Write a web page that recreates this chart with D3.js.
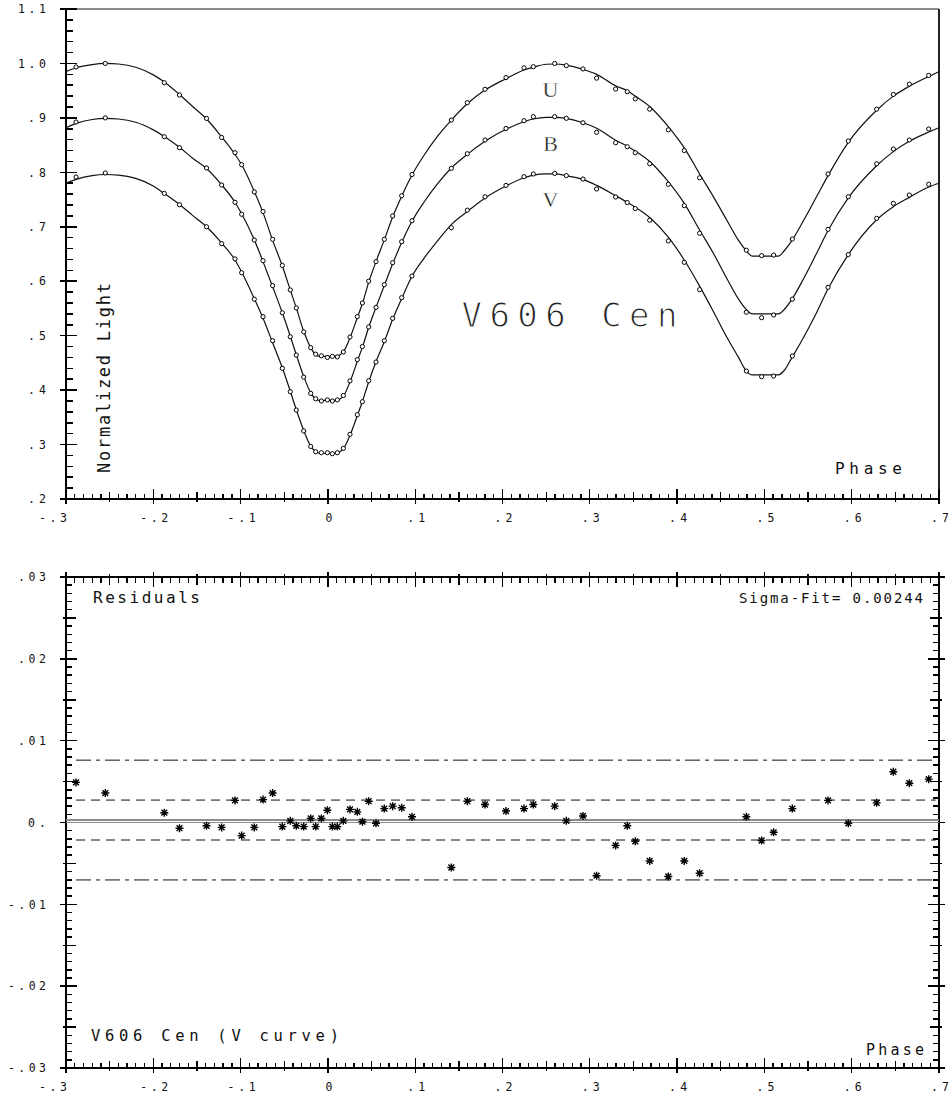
<!DOCTYPE html>
<html>
<head>
<meta charset="utf-8">
<script src="https://cdn.jsdelivr.net/npm/d3@7"></script>
<style>
  html, body { margin: 0; padding: 0; background: #fff; }
  svg { display: block; }
</style>
</head>
<body>
<svg id="chart" width="948" height="1103"></svg>
<script>
// ---- Observed phases (shared by U, B, V and the V residuals) ----
const phaseObs = [-0.2885, -0.2550, -0.1874, -0.1700, -0.1390, -0.1217, -0.1064, -0.0988, -0.0843, -0.0743,
  -0.0633, -0.0522, -0.0431, -0.0362, -0.0277, -0.0197, -0.0140, -0.0075, -0.0006, 0.0051,
  0.0108, 0.0177, 0.0253, 0.0337, 0.0395, 0.0467, 0.0551, 0.0646, 0.0742, 0.0845,
  0.0963, 0.1414, 0.1597, 0.1800, 0.2040, 0.2246, 0.2353, 0.2598, 0.2731, 0.2922,
  0.3078, 0.3296, 0.3429, 0.3521, 0.3686, 0.3899, 0.4082, 0.4258, 0.4793, 0.4968,
  0.5106, 0.5320, 0.5729, 0.5961, 0.6286, 0.6477, 0.6660, 0.6882];

// ---- Observed normalized light ----
const lightU = [0.9935, 1.000, 0.9646, 0.942, 0.899, 0.864, 0.836, 0.814, 0.764, 0.728,
  0.677, 0.629, 0.584, 0.551, 0.507, 0.478, 0.466, 0.463, 0.460, 0.462,
  0.461, 0.470, 0.4975, 0.535, 0.560, 0.600, 0.636, 0.677, 0.720, 0.757,
  0.796, 0.896, 0.928, 0.9525, 0.974, 0.992, 0.994, 1.000, 0.996, 0.990,
  0.973, 0.953, 0.948, 0.935, 0.916, 0.878, 0.840, 0.790, 0.657, 0.647,
  0.648, 0.6775, 0.797, 0.8575, 0.916, 0.943, 0.962, 0.978];
const lightB = [0.8924, 0.900, 0.8654, 0.8452, 0.808, 0.7767, 0.745, 0.723, 0.6757, 0.6377,
  0.592, 0.542, 0.498, 0.4644, 0.424, 0.394, 0.384, 0.380, 0.382, 0.380,
  0.382, 0.390, 0.417, 0.456, 0.480, 0.516, 0.552, 0.5936, 0.634, 0.6726,
  0.7111, 0.8074, 0.8342, 0.8594, 0.8805, 0.8948, 0.9022, 0.9022, 0.8992, 0.8911,
  0.8735, 0.8544, 0.847, 0.836, 0.8158, 0.778, 0.7387, 0.688, 0.543, 0.533,
  0.538, 0.567, 0.6953, 0.7552, 0.8158, 0.8428, 0.8594, 0.8796];
const lightV = [0.7914, 0.7988, 0.7614, 0.7405, 0.700, 0.669, 0.641, 0.6156, 0.567, 0.5348,
  0.4907, 0.440, 0.397, 0.3634, 0.325, 0.2965, 0.2868, 0.285, 0.285, 0.2832,
  0.285, 0.293, 0.3188, 0.3548, 0.3787, 0.4172, 0.4516, 0.4907, 0.5318, 0.5697,
  0.6096, 0.6983, 0.7305, 0.755, 0.776, 0.792, 0.797, 0.798, 0.794, 0.7877,
  0.7694, 0.7547, 0.7445, 0.7335, 0.712, 0.674, 0.6347, 0.5845, 0.435, 0.4246,
  0.4259, 0.4626, 0.5888, 0.649, 0.7155, 0.743, 0.7583, 0.778];

// ---- V-curve residuals (observed - fit) ----
const residV = [0.0049, 0.0036, 0.0012, -0.0007, -0.0004, -0.0006, 0.0027, -0.0016, -0.0006, 0.0028,
  0.0036, -0.0005, 0.0002, -0.0004, -0.0005, 0.0005, -0.0005, 0.0005, 0.0015, -0.0005,
  -0.0005, 0.0002, 0.0016, 0.0013, 0.0001, 0.0026, -0.0001, 0.0017, 0.0020, 0.0018,
  0.0007, -0.0055, 0.0026, 0.0022, 0.0014, 0.0017, 0.0022, 0.0020, 0.0002, 0.0008,
  -0.0065, -0.0028, -0.0004, -0.0023, -0.0047, -0.0066, -0.0047, -0.0062, 0.0007, -0.0022,
  -0.0012, 0.0017, 0.0027, -0.0001, 0.0024, 0.0062, 0.0048, 0.0053];
const residMean = 0.0003;
const sigmaFit = 0.00244;

// ---- Fitted light curves ----
const fitPhase = [-0.300, -0.2885, -0.270, -0.255, -0.240, -0.220, -0.200, -0.1874, -0.170, -0.155,
  -0.139, -0.1217, -0.1064, -0.0988, -0.0843, -0.0743, -0.0633, -0.0522, -0.0431, -0.0362,
  -0.0277, -0.0197, -0.0140, -0.0100, 0.0100, 0.0140, 0.0177, 0.0253, 0.0337, 0.0395,
  0.0467, 0.0551, 0.0646, 0.0742, 0.0845, 0.0963, 0.110, 0.125, 0.1414, 0.1597,
  0.180, 0.204, 0.2246, 0.2353, 0.250, 0.2598, 0.2731, 0.2922, 0.3078, 0.3296,
  0.3429, 0.3521, 0.3686, 0.3899, 0.4082, 0.4258, 0.442, 0.457, 0.470, 0.4793,
  0.486, 0.516, 0.5227, 0.532, 0.545, 0.560, 0.5729, 0.5961, 0.6286, 0.6477,
  0.666, 0.6882, 0.700];
const fitU = [0.985, 0.992, 0.998, 1.000, 0.999, 0.993, 0.979, 0.966, 0.943, 0.921,
  0.898, 0.865, 0.833, 0.814, 0.765, 0.726, 0.675, 0.628, 0.584, 0.551,
  0.508, 0.478, 0.465, 0.462, 0.462, 0.465, 0.470, 0.496, 0.533, 0.559,
  0.598, 0.636, 0.676, 0.718, 0.756, 0.795, 0.831, 0.865, 0.896, 0.926,
  0.951, 0.972, 0.988, 0.993, 0.9985, 0.999, 0.997, 0.989, 0.980, 0.959,
  0.950, 0.940, 0.921, 0.884, 0.845, 0.797, 0.754, 0.712, 0.676, 0.656,
  0.646, 0.646, 0.656, 0.676, 0.712, 0.756, 0.794, 0.855, 0.914, 0.940,
  0.958, 0.976, 0.985];
const fitB = [0.882, 0.890, 0.897, 0.899, 0.898, 0.892, 0.878, 0.866, 0.846, 0.826,
  0.807, 0.777, 0.745, 0.724, 0.676, 0.636, 0.590, 0.542, 0.499, 0.465,
  0.425, 0.395, 0.384, 0.381, 0.381, 0.384, 0.389, 0.415, 0.453, 0.479,
  0.515, 0.552, 0.592, 0.632, 0.671, 0.710, 0.745, 0.778, 0.808, 0.833,
  0.857, 0.879, 0.893, 0.898, 0.901, 0.901, 0.899, 0.891, 0.881, 0.859,
  0.848, 0.839, 0.820, 0.783, 0.743, 0.694, 0.650, 0.605, 0.568, 0.548,
  0.540, 0.540, 0.548, 0.568, 0.605, 0.652, 0.693, 0.753, 0.812, 0.838,
  0.857, 0.874, 0.882];
const fitV = [0.780, 0.787, 0.794, 0.796, 0.795, 0.789, 0.775, 0.761, 0.741, 0.721,
  0.700, 0.670, 0.639, 0.617, 0.568, 0.532, 0.487, 0.441, 0.398, 0.364,
  0.326, 0.297, 0.287, 0.284, 0.284, 0.287, 0.292, 0.317, 0.353, 0.379,
  0.415, 0.452, 0.489, 0.530, 0.568, 0.609, 0.642, 0.673, 0.704, 0.728,
  0.753, 0.775, 0.790, 0.795, 0.797, 0.797, 0.794, 0.787, 0.776, 0.757,
  0.745, 0.736, 0.717, 0.681, 0.639, 0.591, 0.543, 0.497, 0.461, 0.435,
  0.428, 0.428, 0.436, 0.461, 0.497, 0.543, 0.586, 0.649, 0.713, 0.737,
  0.754, 0.773, 0.780];

const bandNames = ["U", "B", "V"];

// ---- Tick labels ----
const phaseTicks = [-0.3, -0.2, -0.1, 0, 0.1, 0.2, 0.3, 0.4, 0.5, 0.6, 0.7];
const phaseTickLabels = ["-.3", "-.2", "-.1", "0", ".1", ".2", ".3", ".4", ".5", ".6", ".7"];
const lightTicks = [1.1, 1.0, 0.9, 0.8, 0.7, 0.6, 0.5, 0.4, 0.3, 0.2];
const lightTickLabels = ["1.1", "1.0", ".9", ".8", ".7", ".6", ".5", ".4", ".3", ".2"];
const residTicks = [0.03, 0.02, 0.01, 0, -0.01, -0.02, -0.03];
const residTickLabels = [".03", ".02", ".01", "0.", "-.01", "-.02", "-.03"];

// ---------------------------------------------------------------
const svg = d3.select("#chart");
const MONO = "'DejaVu Sans Mono', 'Liberation Mono', monospace";

const X0 = 66, X1 = 939;
const TOP = { y0: 9, y1: 499 };
const BOT = { y0: 577, y1: 1068 };

const x = d3.scaleLinear().domain([-0.3, 0.7]).range([X0, X1]);
const yL = d3.scaleLinear().domain([0.2, 1.1]).range([TOP.y1, TOP.y0]);
const yR = d3.scaleLinear().domain([-0.03, 0.03]).range([BOT.y1, BOT.y0]);

function label(g, str, px, py, opt) {
  const t = g.append("text")
    .attr("x", px).attr("y", py)
    .attr("font-family", opt.family || MONO)
    .attr("font-size", opt.size)
    .attr("fill", opt.fill || "#111")
    .attr("text-anchor", opt.anchor || "start")
    .text(str);
  if (opt.len) t.attr("textLength", opt.len).attr("lengthAdjust", "spacing");
  if (opt.transform) t.attr("transform", opt.transform);
  return t;
}

function segs(g, data, width, color) {
  g.selectAll(null).data(data).join("line")
    .attr("x1", d => d[0]).attr("y1", d => d[1])
    .attr("x2", d => d[2]).attr("y2", d => d[3])
    .attr("stroke", color || "#000")
    .attr("stroke-width", width)
    .attr("shape-rendering", "crispEdges");
}

// ---- tick sets ----
const phaseMinor = d3.range(101).map(i => ({ v: -0.3 + i / 100, k: i % 10 === 0 ? 2 : (i % 5 === 0 ? 1 : 0) }));
const lightMinor = d3.range(46).map(i => ({ v: 0.2 + i * 0.02, k: i % 5 === 0 ? 2 : 0 }));
const residMinor = d3.range(61).map(i => ({ v: -0.03 + i * 0.001, k: i % 10 === 0 ? 2 : (i % 5 === 0 ? 1 : 0) }));

// bottom-edge phase ticks (pointing up, larger ones crossing the edge)
function phaseTicksBottom(g, yAxis) {
  const up = [5, 7, 10], down = [0, 3, 5];
  segs(g, phaseMinor.map(t => [x(t.v), yAxis - up[t.k], x(t.v), yAxis + down[t.k]]), 1.3);
}
// top-edge phase ticks (pointing down)
function phaseTicksTop(g, yAxis) {
  const dn = [6, 8, 10], up = [0, 3, 5];
  segs(g, phaseMinor.map(t => [x(t.v), yAxis - up[t.k], x(t.v), yAxis + dn[t.k]]), 1.3);
}

// ================= TOP PANEL =================
const gTop = svg.append("g");

// frame
segs(gTop, [[X0, TOP.y0, X1, TOP.y0]], 2.5, "#8a8a8a");
segs(gTop, [[X1, TOP.y0, X1, TOP.y1]], 1.2, "#222");
segs(gTop, [[X0, TOP.y0, X0, TOP.y1], [X0, TOP.y1, X1, TOP.y1]], 2.2);

// left ticks
segs(gTop, lightMinor.map(t => t.k === 2
  ? [X0 - 6, yL(t.v), X0 + 11, yL(t.v)]
  : [X0, yL(t.v), X0 + 7, yL(t.v)]), 1.5);
phaseTicksBottom(gTop, TOP.y1);

// tick labels
lightTicks.forEach((v, i) => {
  const s = lightTickLabels[i];
  label(gTop, s, 46, yL(v) + 4.2, { size: 11.5, anchor: "end", len: s.length * 10 - 2 });
});
phaseTicks.forEach((v, i) => {
  const s = phaseTickLabels[i];
  if (i === 0) label(gTop, s, x(v) + 1, 521.5, { size: 11.5, anchor: "end", len: s.length * 10 - 2 });
  else label(gTop, s, x(v) + 1, 521.5, { size: 11.5, anchor: "middle", len: s.length * 10 - 2 });
});

// fitted curves
const fitLine = d3.line()
  .x(d => x(d[0]))
  .y(d => yL(d[1]))
  .curve(d3.curveMonotoneX);
[fitU, fitB, fitV].forEach(fit => {
  gTop.append("path")
    .datum(d3.zip(fitPhase, fit))
    .attr("d", fitLine)
    .attr("fill", "none")
    .attr("stroke", "#111")
    .attr("stroke-width", 1.2);
});

// observed points
[lightU, lightB, lightV].forEach(obs => {
  gTop.append("g").selectAll("circle")
    .data(d3.zip(phaseObs, obs))
    .join("circle")
    .attr("cx", d => x(d[0]))
    .attr("cy", d => yL(d[1]))
    .attr("r", 2.1)
    .attr("fill", "#fff")
    .attr("stroke", "#000")
    .attr("stroke-width", 1);
});

// band names under each maximum (thin serif letters)
[fitU, fitB, fitV].forEach((fit, i) => {
  label(gTop, bandNames[i], x(0.255), yL(d3.max(fit)) + 33.5,
    { size: 22, anchor: "middle", family: "'Liberation Serif', 'DejaVu Serif', serif", fill: "#1a1a1a" })
    .attr("stroke", "#fff").attr("stroke-width", 0.35);
});

// titles
label(gTop, "V606 Cen", 461.5, 326.7, { size: 34, len: 216, fill: "#222" })
  .attr("stroke", "#fff").attr("stroke-width", 1.1);
label(gTop, "Normalized Light", 0, 0, { size: 17, anchor: "middle", len: 190,
  transform: "translate(110,378) rotate(-90)" });
label(gTop, "Phase", 835, 473.5, { size: 16, len: 67 });

// ================= BOTTOM PANEL =================
const gBot = svg.append("g");

// frame
segs(gBot, [[X0, BOT.y0, X1, BOT.y0], [X1, BOT.y0, X1, BOT.y1]], 1.6);
segs(gBot, [[X0, BOT.y0, X0, BOT.y1], [X0, BOT.y1, X1, BOT.y1]], 2.2);

// left & right ticks
const inL = [6, 10, 11], outL = [0, 3, 6];
segs(gBot, residMinor.map(t => [X0 - outL[t.k], yR(t.v), X0 + inL[t.k], yR(t.v)]), 1.5);
const inR = [6, 9, 11], outR = [0, 3, 6];
segs(gBot, residMinor.map(t => [X1 - inR[t.k], yR(t.v), X1 + outR[t.k], yR(t.v)]), 1.5);
phaseTicksTop(gBot, BOT.y0);
phaseTicksBottom(gBot, BOT.y1);

// tick labels
residTicks.forEach((v, i) => {
  const s = residTickLabels[i];
  label(gBot, s, 46, yR(v) + 4.2, { size: 11.5, anchor: "end", len: s.length * 10 - 2 });
});
phaseTicks.forEach((v, i) => {
  const s = phaseTickLabels[i];
  if (i === 0) label(gBot, s, x(v) + 1, 1090.5, { size: 11.5, anchor: "end", len: s.length * 10 - 2 });
  else label(gBot, s, x(v) + 1, 1090.5, { size: 11.5, anchor: "middle", len: s.length * 10 - 2 });
});

// zero line and mean line
segs(gBot, [[X0, yR(0), X1, yR(0)], [X0, yR(residMean), X1, yR(residMean)]], 1.4, "#8c8c8c");

// 1-sigma (dashed) and 3-sigma (dash-dot) bands around the mean
const [pMin, pMax] = d3.extent(phaseObs);
const bands = [
  { v: residMean + sigmaFit, dash: "9,6" },
  { v: residMean - sigmaFit, dash: "9,6" },
  { v: residMean + 3 * sigmaFit, dash: "15,5,4,5" },
  { v: residMean - 3 * sigmaFit, dash: "15,5,4,5" }
];
gBot.selectAll(null).data(bands).join("line")
  .attr("x1", x(pMin)).attr("x2", x(pMax) + 7)
  .attr("y1", d => yR(d.v)).attr("y2", d => yR(d.v))
  .attr("stroke", "#111")
  .attr("stroke-width", 1)
  .attr("stroke-dasharray", d => d.dash);

// residual asterisks
const star = "M-4,0L4,0M0,-4L0,4M-2.9,-2.9L2.9,2.9M-2.9,2.9L2.9,-2.9";
gBot.append("g").selectAll("path")
  .data(d3.zip(phaseObs, residV))
  .join("path")
  .attr("transform", d => `translate(${x(d[0])},${yR(d[1])})`)
  .attr("d", star)
  .attr("fill", "none")
  .attr("stroke", "#000")
  .attr("stroke-width", 1.4);

// annotations
label(gBot, "Residuals", 93, 602.5, { size: 16, len: 107 });
label(gBot, "Sigma-Fit= " + sigmaFit.toFixed(5), 739, 602.5, { size: 14, len: 184 });
label(gBot, "V606 Cen (V curve)", 91, 1040.5, { size: 15.5, len: 248 });
label(gBot, "Phase", 866, 1054.5, { size: 15, len: 58 });
</script>
</body>
</html>
